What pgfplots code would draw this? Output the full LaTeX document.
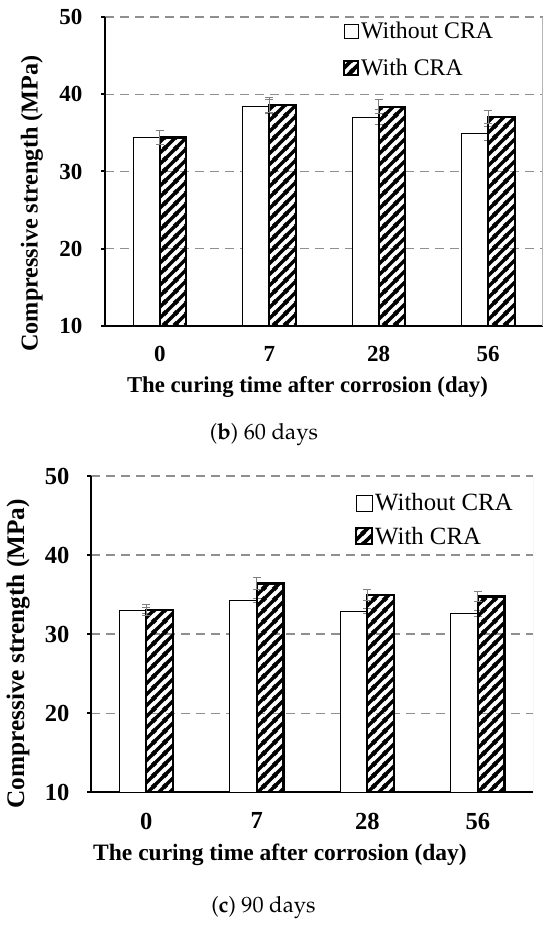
\documentclass[border=0pt]{standalone}
\usepackage[T1]{fontenc}
\usepackage{fontspec}
\setmainfont{Liberation Serif}
\usepackage{pgfplots}
\pgfplotsset{compat=1.18}
\usetikzlibrary{patterns}
\pgfdeclarepatternformonly{crahatch}{\pgfqpoint{0pt}{0pt}}{\pgfqpoint{11pt}{11pt}}{\pgfqpoint{11pt}{11pt}}{%
  \pgfsetlinewidth{3.8pt}%
  \pgfpathmoveto{\pgfqpoint{-2pt}{-2pt}}\pgfpathlineto{\pgfqpoint{13pt}{13pt}}%
  \pgfpathmoveto{\pgfqpoint{-2pt}{9pt}}\pgfpathlineto{\pgfqpoint{2pt}{13pt}}%
  \pgfpathmoveto{\pgfqpoint{9pt}{-2pt}}\pgfpathlineto{\pgfqpoint{13pt}{2pt}}%
  \pgfusepath{stroke}}
\definecolor{gridgray}{HTML}{8F8F8F}
\definecolor{errgray}{HTML}{7F7F7F}
\definecolor{bordgray}{HTML}{B5B5B5}

\pgfplotstableread{
x a ea b eb
0 34.4 0.90 34.4 0.85
1 38.4 0.95 38.6 1.00
2 37.05 1.00 38.4 0.95
3 34.9 0.90 37.05 0.90
}\sixty
\pgfplotstableread{
x a ea b eb
0 33.0 0.40 33.1 0.70
1 34.25 0.30 36.4 0.75
2 32.9 0.35 35.0 0.70
3 32.6 0.38 34.75 0.65
}\ninety

\pgfplotsset{
  craaxis/.style={
    scale only axis,
    xmin=-0.5, xmax=3.5, ymin=10, ymax=50,
    ytick={10,20,30,40,50},
    xtick={0,1,2,3}, xticklabels={0,7,28,56},
    axis x line*=bottom, axis y line*=left,
    axis line style={line width=2.3pt, black},
    tick align=outside,
    major tick length=4pt,
    ytick style={line width=2pt, black},
    xtick style={draw=none},
    ymajorgrids,
    grid style={gridgray, line width=1.3pt, dash pattern=on 9pt off 6pt},
    /pgf/number format/assume math mode=true,
    clip=true,
    legend cell align=left,
  },
  errstyle/.style={
    /pgfplots/error bars/y dir=both,
    /pgfplots/error bars/y explicit,
    /pgfplots/error bars/error bar style={errgray, line width=1pt},
    /pgfplots/error bars/error mark options={errgray, line width=1pt, mark size=4pt, rotate=90}},
  withoutbar/.style={ybar, fill=white, draw=black, line width=1pt, errstyle},
  withbar/.style={ybar, pattern=crahatch, draw=black, line width=2.2pt, errstyle},
}

\begin{document}
\begin{tikzpicture}
\path[use as bounding box] (0,0) rectangle (550pt,929pt);

% ---------- (b) 60 days ----------
\begin{axis}[craaxis,
  at={(105pt,603pt)}, anchor=south west,
  width=438pt, height=309pt,
  ticklabel style={font=\fontsize{23}{27}\selectfont\bfseries},
  yticklabel style={xshift=-15pt},
  xticklabel style={yshift=-13pt},
  ylabel={Compressive strength (MPa)},
  ylabel style={font=\fontsize{24.2}{29}\selectfont\bfseries, at={(axis description cs:-0.1667,0.396)}, anchor=center, rotate=0},
  xlabel={The curing time after corrosion (day)},
  xlabel style={font=\fontsize{22.7}{27}\selectfont\bfseries, at={(axis description cs:0.4623,-0.198)}, anchor=center},
  legend image code/.code={\draw[#1] (0pt,-7pt) rectangle (14pt,7pt);},
  legend style={at={(axis description cs:0.5434,0.8945)}, anchor=west, draw=none, fill=none,
    font=\fontsize{23.8}{28}\selectfont, row sep=15pt, inner sep=0pt,
    nodes={inner sep=1.8pt}},
]
\addplot[withoutbar, bar width=26.5pt, bar shift=-13.25pt] table[x=x, y=a, y error=ea]{\sixty};
\addlegendentry{Without CRA}
\addplot[withbar, bar width=26.5pt, bar shift=13.25pt] table[x=x, y=b, y error=eb]{\sixty};
\addlegendentry{With CRA}
\draw[bordgray, line width=1pt] (rel axis cs:1,0) -- (rel axis cs:1,1);
\end{axis}
\node[font=\fontsize{22.2}{26}\fontencoding{T1}\fontfamily{ppl}\selectfont] at (264pt,494pt) {(\textbf{b}) 60 days};

% ---------- (c) 90 days ----------
\begin{axis}[craaxis,
  at={(91pt,136.7pt)}, anchor=south west,
  width=442pt, height=316.3pt,
  ticklabel style={font=\fontsize{24.5}{29}\selectfont\bfseries},
  yticklabel style={xshift=-14pt},
  xticklabel style={yshift=-13pt},
  ylabel={Compressive strength (MPa)},
  ylabel style={font=\fontsize{25.3}{30}\selectfont\bfseries, at={(axis description cs:-0.165,0.4377)}, anchor=center, rotate=0},
  xlabel={The curing time after corrosion (day)},
  xlabel style={font=\fontsize{23.5}{28}\selectfont\bfseries, at={(axis description cs:0.4276,-0.198)}, anchor=center},
  legend image code/.code={\draw[#1] (0pt,-8pt) rectangle (16pt,8pt);},
  legend style={at={(axis description cs:0.5973,0.8618)}, anchor=west, draw=none, fill=none,
    font=\fontsize{24.8}{29}\selectfont, row sep=11pt, inner sep=0pt,
    nodes={inner sep=1.8pt}},
]
\addplot[withoutbar, bar width=26.8pt, bar shift=-13.4pt] table[x=x, y=a, y error=ea]{\ninety};
\addlegendentry{Without CRA}
\addplot[withbar, bar width=26.8pt, bar shift=13.4pt] table[x=x, y=b, y error=eb]{\ninety};
\addlegendentry{With CRA}
\draw[bordgray, line width=1pt] (rel axis cs:1,0) -- (rel axis cs:1,1);
\end{axis}
\node[font=\fontsize{22.2}{26}\fontencoding{T1}\fontfamily{ppl}\selectfont] at (263.5pt,21pt) {(\textbf{c}) 90 days};
\end{tikzpicture}
\end{document}
